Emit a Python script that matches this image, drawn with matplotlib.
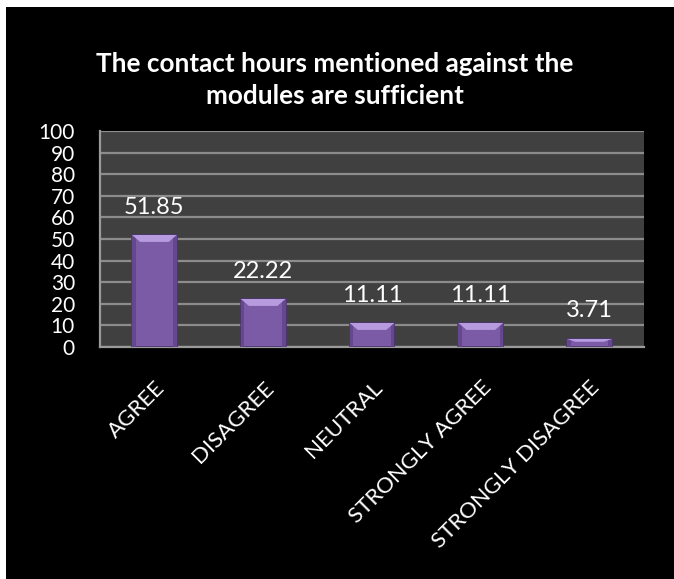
import matplotlib
matplotlib.use('Agg')
import matplotlib.pyplot as plt
from matplotlib.patches import Rectangle, Polygon
import numpy as np

# Data
categories = ['AGREE', 'DISAGREE', 'NEUTRAL', 'STRONGLY AGREE', 'STRONGLY DISAGREE']
values = [51.85, 22.22, 11.11, 11.11, 3.71]
value_labels = ['51.85', '22.22', '11.11', '11.11', '3.71']
yticks = list(range(0, 101, 10))
title = 'The contact hours mentioned against the\nmodules are sufficient'

plt.rcParams['font.family'] = ['Lato', 'DejaVu Sans']

fig = plt.figure(figsize=(6.74, 5.79), dpi=100)
fig.patch.set_facecolor('white')
# black slide background (thin white margin on top/left as in the source crop)
fig.patches.append(Rectangle((6 / 674, -0.01), 1.1, 1.01 - 7 / 579, transform=fig.transFigure,
                             facecolor='black', edgecolor='none', zorder=-5))

ax = fig.add_axes([100 / 674, 1 - 347 / 579, 544 / 674, 216 / 579])
ax.set_zorder(2)
ax.set_facecolor('#404040')

x = np.arange(len(categories))
bars = ax.bar(x, values, width=0.41, color='#7B5AA6', edgecolor='#4E366F',
              linewidth=1.2, zorder=3)

# side shading + bevel on top of each bar
for bar, v in zip(bars, values):
    bx, bw = bar.get_x(), bar.get_width()
    bev = min(3.2, v * 0.35)
    inset = bw * 0.18
    side = bw * 0.08
    ax.add_patch(Rectangle((bx, 0), side, v, facecolor='#65478F', edgecolor='none', zorder=3.5))
    ax.add_patch(Rectangle((bx + bw - side, 0), side, v, facecolor='#65478F', edgecolor='none', zorder=3.5))
    poly = Polygon([(bx, v), (bx + bw, v), (bx + bw - inset, v - bev), (bx + inset, v - bev)],
                   closed=True, facecolor='#B69BDE', edgecolor='none', zorder=4)
    ax.add_patch(poly)

for xi, v, lab in zip(x, values, value_labels):
    ax.annotate(lab, (xi, v), xytext=(0, 28), textcoords='offset pixels',
                ha='center', va='center', color='white', fontsize=17)

ax.set_ylim(0, 100)
ax.set_xlim(-0.5, len(categories) - 0.5)
ax.set_yticks(yticks)
ax.set_yticklabels([str(t) for t in yticks], fontsize=15, color='white')
ax.tick_params(axis='y', length=0, pad=18)
ax.tick_params(axis='x', length=0, pad=22)
ax.set_xticks(x)
ax.set_xticklabels(categories, rotation=45, ha='right', va='top',
                   rotation_mode='anchor', fontsize=16, color='white')
ax.grid(axis='y', color='#8C8C8C', linewidth=1.6, zorder=1)
ax.set_axisbelow(True)
for side in ['top', 'right']:
    ax.spines[side].set_visible(False)
for side in ['left', 'bottom']:
    ax.spines[side].set_color('#9A9A9A')
    ax.spines[side].set_linewidth(1.6)

fig.text(335 / 674, 1 - 80 / 579, title, ha='center', va='center', color='white',
         fontsize=18.8, fontweight='bold', linespacing=1.45)

plt.savefig('out.png', dpi=100, facecolor=fig.get_facecolor())
